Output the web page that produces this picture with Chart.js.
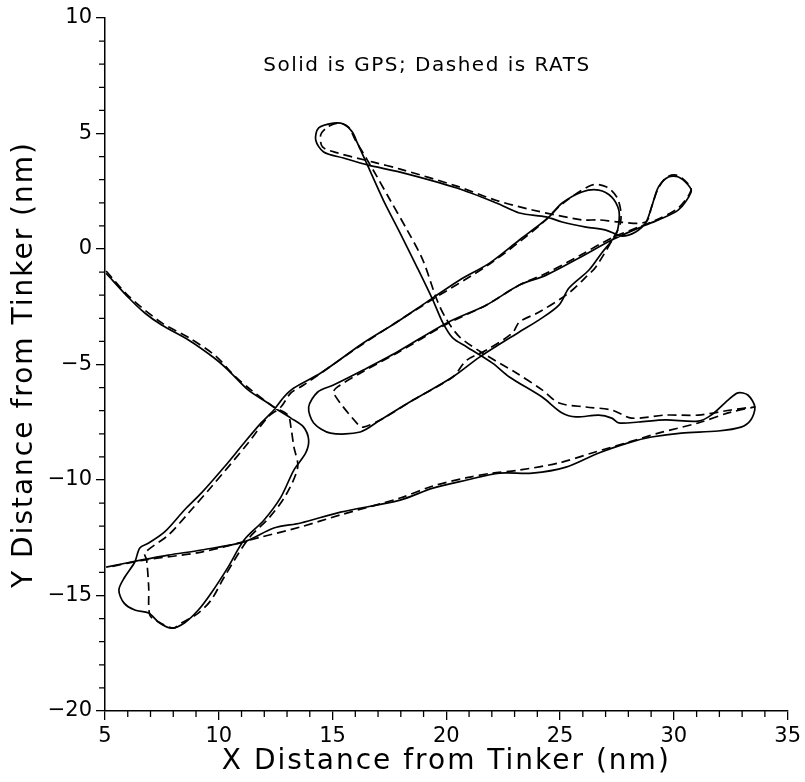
<!DOCTYPE html>
<html>
<head>
<meta charset="utf-8">
<script src="https://cdn.jsdelivr.net/npm/chart.js@4"></script>
<style>
  html, body { margin: 0; padding: 0; background: #fff; }
</style>
</head>
<body>
<canvas id="track" width="805" height="782"></canvas>
<script>
// GPS track (solid), nm from Tinker
const gpsX = [5.05, 6.05, 6.75, 7.49, 8.67, 9.80, 10.41, 11.29, 12.16, 12.60,
  13.17, 13.73, 13.95, 13.82, 13.30, 12.73, 11.99, 11.11, 10.41, 9.67,
  9.10, 8.49, 7.93, 7.40, 6.92, 6.31, 5.83, 5.61, 5.87, 6.31,
  6.53, 6.92, 7.62, 8.49, 9.24, 10.24, 11.11, 11.86, 12.42, 12.86,
  13.30, 14.48, 16.35, 17.84, 19.15, 20.59, 21.90, 23.21, 24.08, 24.52,
  25.09, 25.96, 26.70, 27.27, 27.58, 27.58, 27.45, 26.83, 26.27, 25.39,
  24.96, 24.08, 23.21, 21.46, 20.28, 18.54, 17.10, 16.22, 14.91, 14.17,
  13.95, 14.35, 15.04, 16.35, 17.84, 20.02, 21.77, 23.21, 24.39, 25.83,
  27.27, 28.45, 29.32, 30.20, 30.76, 30.63, 30.20, 29.76, 29.32, 29.02,
  28.76, 28.32, 27.71, 27.01, 26.14, 25.09, 24.39, 23.21, 22.21, 20.46,
  17.97, 16.53, 15.48, 14.61, 14.26, 14.39, 15.04, 15.48, 15.87, 16.09,
  16.53, 17.23, 17.97, 18.71, 19.41, 19.85, 20.28, 20.90, 22.03, 22.77,
  24.21, 25.09, 25.70, 26.70, 27.27, 27.58, 28.45, 29.63, 31.07, 31.64,
  32.38, 32.82, 33.25, 33.56, 33.38, 32.95, 31.94, 30.33, 29.02, 28.14,
  26.70, 25.26, 23.78, 22.34, 20.90, 19.41, 17.97, 15.35, 13.60, 12.42,
  11.11, 9.24, 7.79, 6.62, 5.05];
const gpsY = [-1.05, -2.12, -2.77, -3.29, -3.94, -4.72, -5.24, -6.10, -6.67, -6.97,
  -7.32, -7.71, -8.27, -8.83, -9.57, -10.74, -11.73, -12.60, -13.77, -14.89,
  -15.63, -16.19, -16.41, -16.19, -15.76, -15.63, -15.32, -14.76, -14.20, -13.55,
  -12.94, -12.73, -12.25, -11.30, -10.56, -9.44, -8.40, -7.53, -6.97, -6.41,
  -6.02, -5.37, -4.07, -3.16, -2.29, -1.34, -0.61, 0.39, 1.04, 1.39,
  1.99, 2.47, 2.55, 2.25, 1.69, 1.13, 0.61, -0.17, -0.91, -1.69,
  -2.42, -3.07, -3.59, -4.68, -5.54, -6.54, -7.40, -7.92, -7.97, -7.53,
  -6.84, -6.19, -5.89, -5.24, -4.46, -3.20, -2.42, -1.56, -1.13, -0.39,
  0.39, 0.91, 1.26, 1.69, 2.47, 2.77, 3.12, 3.12, 2.68, 1.82,
  1.13, 0.74, 0.56, 0.82, 0.95, 1.17, 1.39, 1.56, 1.99, 2.64,
  3.33, 3.64, 3.94, 4.20, 4.72, 5.24, 5.45, 5.41, 5.06, 4.59,
  3.64, 2.12, 0.69, -0.78, -2.21, -3.20, -3.85, -4.24, -4.94, -5.54,
  -6.41, -7.10, -7.27, -7.19, -7.32, -7.53, -7.49, -7.40, -7.45, -7.19,
  -6.54, -6.23, -6.32, -6.84, -7.40, -7.71, -7.88, -7.97, -8.14, -8.35,
  -8.83, -9.44, -9.70, -9.70, -10.00, -10.35, -10.87, -11.39, -11.86, -12.08,
  -12.68, -13.03, -13.25, -13.46, -13.77];

// RATS track (dashed)
const ratsX = [5.05, 6.05, 7.50, 8.70, 9.85, 10.70, 11.35, 12.42, 13.04, 13.17,
  13.30, 13.47, 12.95, 12.20, 11.30, 10.24, 9.67, 9.10, 8.36, 8.01,
  7.36, 6.97, 6.92, 6.83, 6.75, 7.79, 8.67, 9.67, 11.29, 12.16,
  12.73, 13.17, 13.73, 16.35, 19.15, 21.90, 24.08, 25.09, 26.40, 27.05,
  27.49, 27.66, 27.66, 27.49, 26.57, 26.14, 25.39, 24.08, 23.21, 22.90,
  21.77, 20.90, 20.28, 18.54, 17.10, 16.35, 16.14, 15.04, 15.22, 16.35,
  17.84, 20.02, 21.77, 23.21, 24.39, 25.83, 27.27, 28.45, 29.32, 30.20,
  30.76, 30.55, 30.10, 29.70, 29.32, 29.02, 28.76, 27.58, 26.70, 25.96,
  23.78, 22.21, 20.46, 17.97, 16.79, 15.22, 14.56, 14.48, 14.78, 15.26,
  15.70, 16.00, 16.53, 16.96, 17.53, 18.28, 18.97, 19.59, 20.02, 20.59,
  21.59, 23.08, 24.21, 24.96, 26.14, 27.27, 28.14, 29.63, 31.07, 32.51,
  33.56, 32.51, 31.07, 29.32, 27.88, 26.40, 24.96, 23.21, 22.03, 20.90,
  19.41, 17.97, 15.35, 13.60, 11.86, 9.24, 6.75, 5.17];
const ratsY = [-0.95, -2.05, -3.20, -3.85, -4.62, -5.50, -6.05, -6.84, -7.19, -7.71,
  -8.57, -9.44, -10.65, -11.65, -12.55, -14.20, -15.19, -15.76, -16.19, -16.41,
  -16.15, -15.84, -14.63, -13.46, -13.16, -12.38, -11.43, -10.30, -8.40, -7.27,
  -6.84, -6.23, -5.89, -4.10, -2.33, -0.65, 1.00, 1.95, 2.77, 2.68,
  2.25, 1.69, 1.17, 0.74, -0.78, -1.21, -1.90, -2.73, -3.16, -3.64,
  -4.37, -4.81, -5.54, -6.54, -7.40, -7.71, -7.62, -6.23, -5.97, -5.30,
  -4.50, -3.25, -2.42, -1.56, -1.05, -0.30, 0.48, 0.95, 1.30, 1.78,
  2.55, 2.90, 3.20, 3.12, 2.64, 1.82, 1.17, 1.17, 1.26, 1.26,
  1.69, 2.10, 2.72, 3.46, 3.76, 4.16, 4.42, 4.94, 5.28, 5.45,
  5.28, 4.72, 3.85, 3.12, 2.12, 0.82, -0.48, -2.21, -3.07, -3.81,
  -4.50, -5.37, -6.10, -6.67, -6.84, -6.97, -7.32, -7.19, -7.19, -6.97,
  -6.84, -7.06, -7.53, -7.97, -8.40, -8.83, -9.26, -9.57, -9.70, -9.90,
  -10.26, -10.78, -11.51, -12.03, -12.47, -13.12, -13.46, -13.77];

const xTicks = [5, 10, 15, 20, 25, 30, 35];
const yTicks = [-20, -15, -10, -5, 0, 5, 10];
const xTitle = "X Distance from Tinker (nm)";
const yTitle = "Y Distance from Tinker (nm)";
const note = "Solid is GPS; Dashed is RATS";
const noteX = 19.15;
const noteY = 7.95;

const fontFamily = "'DejaVu Sans', sans-serif";

const toPoints = (xs, ys) => xs.map((x, i) => ({ x: x, y: ys[i] }));

const minorTicks = {
  id: "minorTicks",
  afterDraw(chart) {
    const ctx = chart.ctx;
    const xs = chart.scales.x;
    const ys = chart.scales.y;
    ctx.save();
    ctx.strokeStyle = "#000";
    ctx.lineWidth = 1.3;
    ctx.beginPath();
    for (let v = xs.min; v <= xs.max; v++) {
      if (v % 5 === 0) continue;
      const px = xs.getPixelForValue(v);
      ctx.moveTo(px, ys.bottom);
      ctx.lineTo(px, ys.bottom + 6);
    }
    for (let v = ys.min; v <= ys.max; v++) {
      if (v % 5 === 0) continue;
      const py = ys.getPixelForValue(v);
      ctx.moveTo(xs.left, py);
      ctx.lineTo(xs.left - 6, py);
    }
    ctx.stroke();
    ctx.restore();
  },
};

// titles and the note are drawn by hand so they can get letter spacing
const textLabels = {
  id: "textLabels",
  afterDraw(chart) {
    const ctx = chart.ctx;
    const area = chart.chartArea;
    ctx.save();
    ctx.fillStyle = "#000";
    ctx.textAlign = "center";
    ctx.textBaseline = "middle";

    ctx.font = "20px " + fontFamily;
    ctx.letterSpacing = "1.5px";
    ctx.fillText(
      note,
      chart.scales.x.getPixelForValue(noteX),
      chart.scales.y.getPixelForValue(noteY)
    );

    ctx.font = "28px " + fontFamily;
    ctx.letterSpacing = "2px";
    ctx.fillText(xTitle, (area.left + area.right) / 2, 762);

    ctx.translate(25, (area.top + area.bottom) / 2);
    ctx.rotate(-Math.PI / 2);
    ctx.fillText(yTitle, 0, 0);
    ctx.restore();
  },
};

const axisOpts = (ticks, fit) => ({
  type: "linear",
  min: ticks[0],
  max: ticks[ticks.length - 1],
  afterBuildTicks: (scale) => {
    scale.ticks = ticks.map((v) => ({ value: v }));
  },
  afterFit: fit,
  ticks: {
    color: "#000",
    padding: 4,
    font: { family: fontFamily, size: 21 },
    callback: (v) => String(v).replace("-", "\u2212"),
  },
  grid: {
    drawOnChartArea: false,
    drawTicks: true,
    tickLength: 9,
    color: "#000",
    lineWidth: 1.3,
  },
  border: { display: true, color: "#000", width: 1.5 },
  title: { display: false },
});

const ctx = document.getElementById("track").getContext("2d");
new Chart(ctx, {
  type: "scatter",
  data: {
    datasets: [
      {
        label: "GPS",
        data: toPoints(gpsX, gpsY),
        showLine: true,
        borderColor: "#000",
        borderWidth: 1.7,
        pointRadius: 0,
        tension: 0.3,
        fill: false,
      },
      {
        label: "RATS",
        data: toPoints(ratsX, ratsY),
        showLine: true,
        borderColor: "#000",
        borderWidth: 1.7,
        borderDash: [9, 5],
        pointRadius: 0,
        tension: 0.3,
        fill: false,
      },
    ],
  },
  options: {
    responsive: false,
    animation: false,
    layout: { padding: { top: 18, right: 15, left: 0, bottom: 0 } },
    scales: {
      x: axisOpts(xTicks, (s) => {
        s.height = 71;
      }),
      y: axisOpts(yTicks, (s) => {
        s.width = 105;
      }),
    },
    plugins: {
      legend: { display: false },
      tooltip: { enabled: false },
    },
  },
  plugins: [minorTicks, textLabels],
});
</script>
</body>
</html>
